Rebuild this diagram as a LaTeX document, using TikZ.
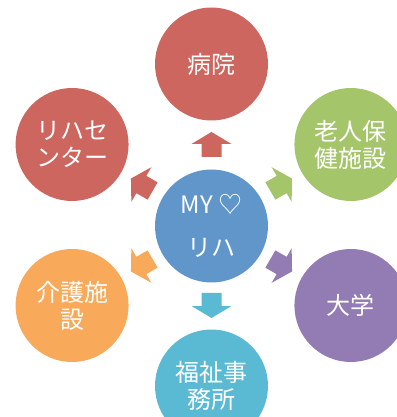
\documentclass[tikz,border=0pt]{standalone}
\usepackage{fontspec}
\newfontfamily\jpfont{Noto Sans CJK JP}
\definecolor{rihablue}{HTML}{6196CB}
\definecolor{rihared}{HTML}{CD665F}
\definecolor{rihagreen}{HTML}{A5C56B}
\definecolor{rihapurple}{HTML}{937BB3}
\definecolor{rihaaqua}{HTML}{5BBAD3}
\definecolor{rihaorange}{HTML}{F8A95A}
\tikzset{
   bubble/.style={circle, minimum size=113pt, inner sep=0pt, text=white,
      align=center, font=\jpfont\fontsize{24}{27}\selectfont},
}

\begin{document}
\begin{tikzpicture}[x=1pt, y=1pt]
   \useasboundingbox (-211.5,-192) rectangle (184.5,225);
   % Arrows
   \foreach \a/\c in {90/rihared, 30/rihagreen, -30/rihapurple,
                      -90/rihaaqua, -150/rihaorange, 150/rihared}
      \fill [\c, shift={(\a:80.5)}, rotate=\a]
         (-12.5,-10) -- (0.5,-10) -- (0.5,-20) -- (12.5,0)
         -- (0.5,20) -- (0.5,10) -- (-12.5,10) -- cycle;
   % Circles
   \node [bubble, fill=rihablue] (my) at (0,-1) {MY ♡\\[16pt]リハ};
   \node [bubble, fill=rihared] (byoin) at (90:161) {病院};
   \node [bubble, fill=rihagreen] (roujin) at (30:161) {老人保\\健施設};
   \node [bubble, fill=rihapurple] (daigaku) at (-30:161) {大学};
   \node [bubble, fill=rihaaqua] (fukushi) at (-90:161) {福祉事\\務所};
   \node [bubble, fill=rihaorange] (kaigo) at (-150:161) {介護施\\設};
   \node [bubble, fill=rihared] (rihac) at (150:161) {リハセ\\ンター};
\end{tikzpicture}
\end{document}
